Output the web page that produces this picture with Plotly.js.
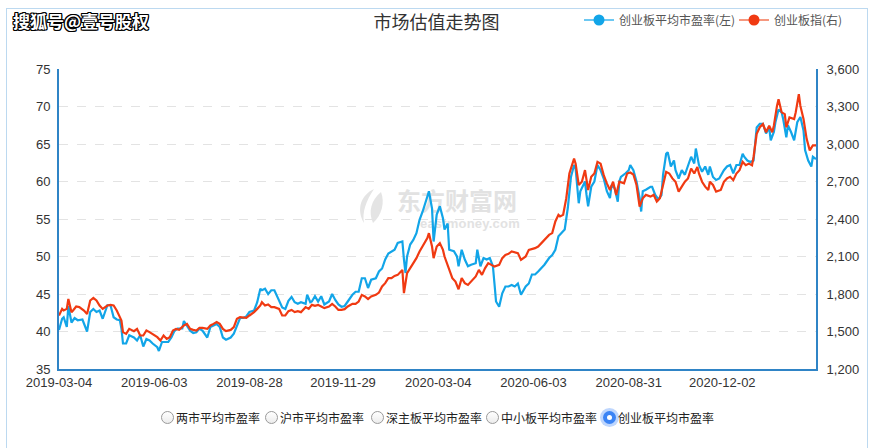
<!DOCTYPE html>
<html>
<head>
<meta charset="utf-8">
<script src="https://cdn.plot.ly/plotly-3.0.1.min.js"></script>
<style>
  body { margin: 0; background: #fff; }
  #wrap { position: relative; width: 873px; height: 448px; overflow: hidden; font-family: "Noto Sans CJK SC", sans-serif; }
  #frame { position: absolute; left: 6px; top: 8px; width: 862px; height: 470px; border: 1px solid #bcd9f0; box-sizing: border-box; z-index: 0; }
  #bgmark { position: absolute; left: 0; top: 0; width: 873px; height: 448px; z-index: 1; }
  #chart { position: absolute; left: 0; top: 0; width: 873px; height: 448px; z-index: 2; }
  #sohu { position: absolute; left: 13px; top: 8px; font-size: 17px; font-weight: bold; color: #fff; z-index: 5; white-space: nowrap;
          text-shadow: -1px 0 #000, 1px 0 #000, 0 -1px #000, 0 1px #000, -1px -1px #000, 1px 1px #000, -1px 1px #000, 1px -1px #000; }
  .wmcn { position: absolute; left: 397px; top: 186px; font-size: 24px; font-weight: bold; color: #e2e2e2; line-height: 27px; white-space: nowrap; }
  .wmen { position: absolute; left: 420px; top: 216px; font-family: "Liberation Sans", Arial, sans-serif; font-size: 13px; font-weight: bold; color: #e2e2e2; line-height: 15px; letter-spacing: 0.2px; }
  .radio { position: absolute; top: 411px; width: 13px; height: 13px; border-radius: 50%; box-sizing: border-box; z-index: 5;
           border: 1px solid #9a9a9a; background: linear-gradient(#ffffff, #ececec); }
  .radio.sel { border: none; background: #3b84f5; box-shadow: 0 0 0 3px rgba(110,165,250,0.45); }
  .radio.sel::after { content: ""; position: absolute; left: 4px; top: 4px; width: 5px; height: 5px; border-radius: 50%; background: #fff; }
  .rlabel { position: absolute; top: 409px; font-size: 12px; line-height: 18px; color: #222; white-space: nowrap; z-index: 5; }
</style>
</head>
<body>
<div id="wrap">
  <div id="frame"></div>
  <div id="bgmark">
    <svg style="position:absolute;left:352px;top:187px" width="36" height="38" viewBox="0 0 36 38">
      <path d="M22 2 C 9 8, 4 22, 12 36 C 10 25, 14 14, 22 2 Z" fill="#e4e4e4"/>
      <path d="M29 5 C 19 13, 16 25, 21 36 C 30 28, 33 15, 29 5 Z" fill="#e4e4e4"/>
    </svg>
    <div class="wmcn">东方财富网</div>
    <div class="wmen">eastmoney.com</div>
  </div>
  <div id="chart"></div>
  <div id="sohu">搜狐号@壹号股权</div>
  <div id="radios"></div>
</div>
<script>
// ---- data (x = trading-day index from 2019-03-04) ----
var tickDays   = [0, 61, 122, 182, 243, 304, 365, 425];
var tickLabels = ['2019-03-04', '2019-06-03', '2019-08-28', '2019-11-29', '2020-03-04', '2020-06-03', '2020-08-31', '2020-12-02'];

var seriesNames = ['创业板平均市盈率(左)', '创业板指(右)'];

var peDays = [
  0,2,3,5,6,8,10,12,15,17, 18,20,22,24,26,28,31,33,35,37, 39,40,41,43,45,48,50,52,54,56,
  58,60,63,64,66,68,70,72,74,76, 79,80,82,84,86,88,90,92,95,97, 99,101,103,105,107,110,112,114,116,118,
  120,122,125,127,129,130,132,134,136,138, 141,143,145,147,149,151,153,155,158,159, 161,
  162,164,166,168,170,173,175,177,179,181, 183,185,188,190,192,194,196,198,200,203,
  205,207,209,211,213,215,217,220,221,222, 223,225,227,229,231,233,236,237,239,240,
  242,244,246,247,249,250,253,255,256,258, 260,262,264,267,268,270,272,274,276,278,
  279,280,282,284,286,288,290,292,294,296, 299,301,303,305,307,309,311,314,316,318, 320,
  324,326,328,330,331,333,334,337,338,339, 341,343,345,347,349,351,353,354,356,358,
  359,360,363,365,366,368,370,372,373,374, 376,379,380,382,384,386,387,389,390,392,
  394,395,397,399,401,403,405,407,408,410, 412,414,416,417,419,421,423,426,428,430,
  432,434,436,438,439,441,443,445,447,449, 451,453,455,456,458,459,461,463,464,466,
  467,469,471,473,475,477,478,480,482,483, 485
];
var peValues = [
  40.2,41.7,41.9,40.6,43.4,41.2,41.8,41.5,41.6,40.4, 40.0,42.6,43.0,42.6,42.8,41.7,43.5,43.5,41.9,41.6,
  41.5,40.4,38.4,38.4,39.5,39.2,38.8,39.5,38.0,39.0, 38.8,38.4,37.9,37.4,38.6,38.6,38.6,39.2,40.1,40.4,
  40.4,41.4,40.8,40.1,39.8,39.9,40.4,40.1,39.2,40.6, 40.8,41.0,40.6,39.2,38.9,39.2,39.7,40.8,41.8,41.8,
  42.0,42.6,42.8,43.9,45.7,45.5,45.7,45.0,45.5,45.5, 44.1,43.2,43.0,44.1,44.6,43.9,43.7,43.9,43.7,44.9, 43.9,
  44.0,44.7,44.0,44.7,43.6,44.0,45.0,44.2,43.6,43.3, 43.4,44.0,44.9,45.3,45.3,47.1,47.1,45.8,46.9,47.1,
  48.0,48.4,49.6,50.4,50.7,50.9,51.8,52.0,49.6,47.8, 50.0,51.6,52.2,53.1,54.9,56.0,58.0,58.7,56.4,52.0,
  55.6,56.7,55.1,53.6,54.4,50.9,50.7,50.0,48.7,50.9, 49.6,48.7,48.9,49.1,50.9,48.7,49.8,49.6,49.8,48.7,
  46.4,44.0,43.3,45.1,46.0,46.0,46.2,46.0,46.4,44.9, 46.0,46.4,47.6,47.6,48.0,48.4,48.9,49.8,50.2,50.9, 52.7,
  53.6,56.5,60.6,62.2,61.7,57.1,58.7,60.0,58.2,56.7, 59.3,60.0,62.2,61.5,60.4,58.7,57.8,59.5,59.1,57.3,
  60.0,60.6,61.1,61.5,62.2,61.5,60.0,57.8,56.0,58.7, 58.9,59.3,59.3,58.2,57.6,58.2,60.9,63.7,63.9,62.0,
  62.8,61.5,60.4,61.5,60.9,62.0,63.3,62.4,64.4,62.2, 61.3,62.0,60.9,62.0,60.6,60.2,60.4,61.5,62.0,62.2,
  61.1,62.2,62.2,63.7,63.3,62.8,62.6,62.8,67.2,67.7, 67.7,66.4,67.2,65.5,66.6,67.9,69.6,69.2,68.3,65.9,
  67.5,66.6,65.5,67.9,68.6,66.8,64.2,62.8,62.0,63.3, 63.0
];

var idxDays = [
  0,2,3,5,6,8,9,11,13,16, 18,20,22,24,26,28,31,33,35,37, 39,40,41,43,45,48,50,52,54,56,
  58,60,63,65,67,69,71,73,75,77, 80,82,84,86,88,90,92,95,97,99, 101,103,105,107,110,112,114,116,118,120,
  122,125,127,129,130,132,134,136,138,141, 143,145,147,149,151,153,155,158,160,
  162,164,166,168,170,173,175,177,179,181, 183,185,188,190,192,194,196,198,200,203,
  205,207,209,211,213,215,217,220,221,223, 225,227,229,231,233,236,237,239,240,242,
  244,246,247,249,252,254,256,258,260,262, 264,267,269,271,273,275,277,279,282,284,
  286,288,290,292,294,296,299,301,303,305, 307,309,311,314,316,318,320,
  321,323,325,327,330,331,333,335,337,339, 341,343,345,347,349,351,353,355,357,359,
  362,364,366,368,370,372,374,376,379,381, 383,385,387,389,391,393,395,397,399,401,
  403,405,407,409,410,412,414,416,417,419, 421,424,426,428,430,432,434,436,438,440,
  442,444,445,447,449,451,453,455,457,458, 460,461,463,465,466,468,471,472,474,475,
  477,479,481,483,485
];
var idxValues = [
  1628,1681,1668,1681,1761,1655,1668,1700,1695,1668, 1641,1748,1769,1748,1708,1681,1708,1713,1708,1668,
  1615,1588,1495,1481,1521,1503,1521,1468,1468,1508, 1495,1481,1455,1428,1468,1441,1455,1508,1521,1513,
  1548,1561,1521,1513,1508,1529,1529,1521,1548,1561, 1575,1561,1521,1503,1513,1535,1601,1615,1615,1609,
  1628,1655,1681,1708,1735,1708,1716,1695,1695,1681, 1628,1628,1663,1673,1655,1663,1655,1695,1681,
  1713,1705,1713,1700,1687,1700,1721,1700,1673,1673, 1679,1700,1721,1721,1740,1793,1780,1759,1780,1793,
  1812,1860,1887,1927,1927,1945,1953,1993,1807,1967, 2007,2047,2087,2140,2180,2247,2287,2180,2087,2180,
  2207,2153,2100,2033,1927,1900,1838,1927,1887,1873, 1900,1940,1993,1953,2007,2047,2033,2020,2033,2087,
  2113,2121,2140,2132,2127,2073,2100,2153,2159,2167, 2180,2207,2233,2273,2287,2380,2433,
  2421,2434,2566,2764,2883,2843,2672,2698,2791,2632, 2738,2764,2857,2843,2751,2685,2632,2698,2593,2698,
  2685,2764,2772,2756,2672,2500,2566,2593,2579,2593, 2540,2566,2685,2777,2764,2725,2698,2619,2659,2698,
  2725,2804,2764,2817,2764,2698,2659,2632,2698,2672, 2619,2632,2698,2725,2738,2711,2764,2791,2857,2830,
  2843,2830,2896,3081,3134,3160,3094,3147,3094,3147, 3305,3358,3253,3239,3134,3213,3200,3253,3398,3305,
  3200,3041,2949,2989,2989
];

var radioLabels = ['两市平均市盈率', '沪市平均市盈率', '深主板平均市盈率', '中小板平均市盈率', '创业板平均市盈率'];
var selectedRadio = 4;

// ---- styles ----
var BLUE = '#12a5e8', RED = '#f03a12', AXIS = '#2f84c6';
var CJK = '"Noto Sans CJK SC", sans-serif';
var NUM = '"Liberation Sans", Arial, sans-serif';

var traces = [
  { x: peDays, y: peValues, type: 'scatter', mode: 'lines', yaxis: 'y', showlegend: false,
    line: { color: BLUE, width: 2.2 }, hoverinfo: 'skip' },
  { x: idxDays, y: idxValues, type: 'scatter', mode: 'lines', yaxis: 'y2', showlegend: false,
    line: { color: RED, width: 2.2 }, hoverinfo: 'skip' },
  // legend entries (one legend box each, placed like the reference)
  { x: [null], y: [null], type: 'scatter', mode: 'lines+markers', name: seriesNames[0], legend: 'legend',
    line: { color: '#6cc8f2', width: 2 }, marker: { color: BLUE, size: 11 } },
  { x: [null], y: [null], type: 'scatter', mode: 'lines+markers', name: seriesNames[1], yaxis: 'y2', legend: 'legend2',
    line: { color: '#f6987f', width: 2 }, marker: { color: RED, size: 11 } }
];

var legendBase = {
  orientation: 'h', xref: 'container', xanchor: 'left', yref: 'container', y: 1 - 20 / 448, yanchor: 'middle',
  font: { family: CJK, size: 12, color: '#555' }, bgcolor: 'rgba(0,0,0,0)', borderwidth: 0,
  itemwidth: 30, itemclick: false, itemdoubleclick: false
};

var layout = {
  width: 873, height: 448,
  margin: { l: 59, r: 57, t: 69, b: 79, pad: 0, autoexpand: false },
  paper_bgcolor: 'rgba(0,0,0,0)', plot_bgcolor: 'rgba(0,0,0,0)',
  font: { family: NUM, size: 13, color: '#333' },
  title: { text: '市场估值走势图', xref: 'container', x: 0.5, xanchor: 'center',
           yref: 'container', y: 1 - 23 / 448, yanchor: 'middle',
           font: { family: CJK, size: 18, color: '#333' } },
  showlegend: true,
  legend: Object.assign({}, legendBase, { x: 579 / 873 }),
  legend2: Object.assign({}, legendBase, { x: 734 / 873 }),
  xaxis: { range: [0, 485], tickmode: 'array', tickvals: tickDays, ticktext: tickLabels,
           showline: true, linecolor: AXIS, linewidth: 2, showgrid: false, zeroline: false,
           ticks: '', tickfont: { family: NUM, size: 13, color: '#333' }, fixedrange: true },
  yaxis: { range: [35, 75], tick0: 35, dtick: 5, showline: true, linecolor: AXIS, linewidth: 2,
           showgrid: true, gridcolor: '#e3e3e3', griddash: 'dash', gridwidth: 1, zeroline: false,
           ticks: '', ticklabelstandoff: 4, tickfont: { family: NUM, size: 13, color: '#333' }, fixedrange: true },
  yaxis2: { range: [1200, 3600], tick0: 1200, dtick: 300, overlaying: 'y', side: 'right',
            tickformat: ',d', showline: true, linecolor: AXIS, linewidth: 2, showgrid: false, zeroline: false,
            ticks: '', ticklabelstandoff: 6, tickfont: { family: NUM, size: 13, color: '#333' }, fixedrange: true }
};

Plotly.newPlot('chart', traces, layout, { displayModeBar: false, staticPlot: true });

// radio row
var radioCenters = [167, 271, 377, 492, 609];
var box = document.getElementById('radios');
radioLabels.forEach(function (lab, i) {
  var c = document.createElement('div');
  c.className = 'radio' + (i === selectedRadio ? ' sel' : '');
  c.style.left = (radioCenters[i] - 6.5) + 'px';
  box.appendChild(c);
  var t = document.createElement('div');
  t.className = 'rlabel';
  t.style.left = (radioCenters[i] + 9) + 'px';
  t.textContent = lab;
  box.appendChild(t);
});
</script>
</body>
</html>
